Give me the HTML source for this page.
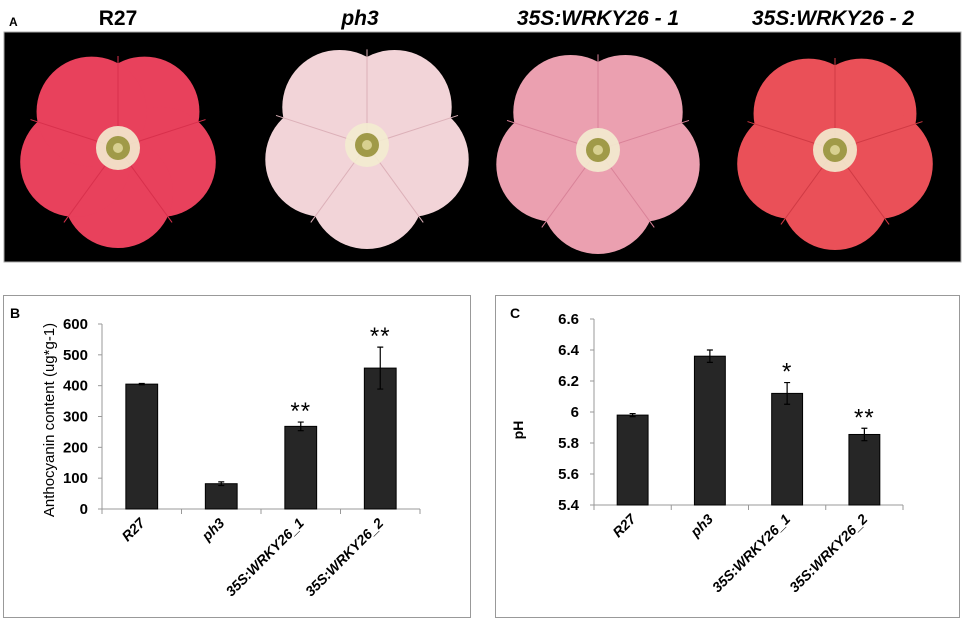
<!DOCTYPE html>
<html><head><meta charset="utf-8">
<style>
html,body{margin:0;padding:0;background:#fff;}
body{width:964px;height:623px;overflow:hidden;font-family:"Liberation Sans",Arial,sans-serif;}
svg text{font-family:"Liberation Sans",Arial,sans-serif;}
</style></head>
<body>
<svg id="fig" width="964" height="623" viewBox="0 0 964 623">
  <g>
    <text x="9" y="26" font-size="12" font-weight="bold">A</text>
    <text x="118" y="25" font-size="21" font-weight="bold" text-anchor="middle">R27</text>
    <text x="360" y="25" font-size="21" font-weight="bold" font-style="italic" text-anchor="middle">ph3</text>
    <text x="598" y="25" font-size="21" font-weight="bold" font-style="italic" text-anchor="middle">35S:WRKY26 - 1</text>
    <text x="833" y="25" font-size="21" font-weight="bold" font-style="italic" text-anchor="middle">35S:WRKY26 - 2</text>
    <rect x="4" y="32" width="957" height="230" fill="#000" stroke="#aaa" stroke-width="1"/>
    <g id="flowers"></g>
  </g>
  <g id="chartB">
    <rect x="3.5" y="295.5" width="467" height="322" fill="#fff" stroke="#999"/>
    <text x="10" y="318" font-size="14" font-weight="bold">B</text>
    <text transform="translate(54,420) rotate(-90)" font-size="15" text-anchor="middle">Anthocyanin content (ug*g-1)</text>
  </g>
  <g id="chartC">
    <rect x="495.5" y="295.5" width="464" height="322" fill="#fff" stroke="#999"/>
    <text x="510" y="318" font-size="14" font-weight="bold">C</text>
    <text transform="translate(523,430) rotate(-90)" font-size="14" font-weight="bold" text-anchor="middle">pH</text>
  </g>
</svg>
<script>
const categories = ["R27", "ph3", "35S:WRKY26_1", "35S:WRKY26_2"];
const anthoValues = [405, 82, 268, 457];
const anthoErrors = [2, 6, 14, 68];
const anthoStars = ["", "", "**", "**"];
const anthoTicks = [0, 100, 200, 300, 400, 500, 600];
const phValues = [5.98, 6.36, 6.12, 5.855];
const phErrors = [0.01, 0.04, 0.07, 0.04];
const phStars = ["", "", "*", "**"];
const phTicks = [5.4, 5.6, 5.8, 6.0, 6.2, 6.4, 6.6];
const phTickLabels = ["5.4", "5.6", "5.8", "6", "6.2", "6.4", "6.6"];

const NS = "http://www.w3.org/2000/svg";
function mk(tag, attrs, parent){
  const e = document.createElementNS(NS, tag);
  for (const k in attrs) e.setAttribute(k, attrs[k]);
  parent.appendChild(e);
  return e;
}

function drawChart(g, opt){
  const {x0, x1, yBot, yTop, vmin, vmax, values, errors, stars, ticks, tickLabels, prefix, labelRight} = opt;
  const yScale = v => yBot - (v - vmin) / (vmax - vmin) * (yBot - yTop);
  const step = (x1 - x0) / categories.length;
  const xScale = i => x0 + step * (i + 0.5);
  const ya = mk("line", {x1:x0, y1:yTop, x2:x0, y2:yBot, stroke:"#999", "stroke-width":1}, g);
  
  
  const xa = mk("line", {x1:x0, y1:yBot, x2:x1, y2:yBot, stroke:"#999", "stroke-width":1}, g);
  
  
  ticks.forEach((t, i) => {
    const y = yScale(t);
    const tk = mk("line", {x1:x0-4, y1:y, x2:x0, y2:y, stroke:"#999"}, g);
    
    
    const tl = mk("text", {x:labelRight, y:y+5, "font-size":15, "font-weight":"bold", "text-anchor":"end"}, g);
    tl.textContent = tickLabels[i];
    
    
  });
  for (let i = 0; i <= categories.length; i++){
    const x = x0 + step * i;
    const tk = mk("line", {x1:x, y1:yBot, x2:x, y2:yBot+5, stroke:"#999"}, g);
    
    
  }
  const bw = step * 0.4;
  values.forEach((v, i) => {
    const cx = xScale(i);
    const yv = yScale(v);
    const b = mk("rect", {x:cx-bw/2, y:yv, width:bw, height:yBot-yv, fill:"#262626", stroke:"#000", "stroke-width":1}, g);
    
    
    const yh = yScale(v + errors[i]), yl = yScale(v - errors[i]);
    const eg = mk("path", {d:`M${cx},${yh}V${yl}M${cx-3},${yh}H${cx+3}M${cx-3},${yl}H${cx+3}`, stroke:"#000", "stroke-width":1.2, fill:"none"}, g);
    
    
    if (stars[i]){
      const s = mk("text", {x:cx, y:yh-3, "font-size":24, "text-anchor":"middle", "letter-spacing":"1"}, g);
      s.textContent = stars[i];
      
      
    }
    const lx = cx + 4, ly = yBot + 15;
    const lbl = mk("text", {x:lx, y:ly, "font-size":14, "font-weight":"bold", "font-style":"italic", "text-anchor":"end", transform:`rotate(-45 ${lx} ${ly})`}, g);
    lbl.textContent = categories[i];
    
    
  });
}

drawChart(document.getElementById("chartB"), {
  x0:102, x1:420, yBot:509, yTop:324, vmin:0, vmax:600,
  values:anthoValues, errors:anthoErrors, stars:anthoStars,
  ticks:anthoTicks, tickLabels:anthoTicks.map(String), prefix:"anthocyanin", labelRight:88
});
drawChart(document.getElementById("chartC"), {
  x0:594, x1:903, yBot:505, yTop:319, vmin:5.4, vmax:6.6,
  values:phValues, errors:phErrors, stars:phStars,
  ticks:phTicks, tickLabels:phTickLabels, prefix:"ph", labelRight:579
});

const fg = document.getElementById("flowers");
const flowers = [
  {cx:118, cy:148, r:100, col:"#e8415c", dark:"#d8304c", name:"flower-r27"},
  {cx:367, cy:145, r:104, col:"#f2d4d8", dark:"#dcb0b8", name:"flower-ph3"},
  {cx:598, cy:150, r:104, col:"#eba0b0", dark:"#d98298", name:"flower-wrky26-1"},
  {cx:835, cy:150, r:100, col:"#ea5058", dark:"#d03a44", name:"flower-wrky26-2"}
];
flowers.forEach(f => {
  const g = mk("g", {}, fg);
  
  
  mk("circle", {cx:f.cx, cy:f.cy, r:f.r*0.82, fill:f.col}, g);
  for (let k = 0; k < 5; k++){
    const a = (-90 + 36 + k*72) * Math.PI/180;
    mk("circle", {cx:f.cx + Math.cos(a)*f.r*0.45, cy:f.cy + Math.sin(a)*f.r*0.45, r:f.r*0.55, fill:f.col}, g);
  }
  for (let k = 0; k < 5; k++){
    const a = (-90 + k*72) * Math.PI/180;
    mk("line", {x1:f.cx, y1:f.cy, x2:f.cx + Math.cos(a)*f.r*0.92, y2:f.cy + Math.sin(a)*f.r*0.92, stroke:f.dark, "stroke-width":1}, g);
  }
  mk("circle", {cx:f.cx, cy:f.cy, r:22, fill:"#f3ecd0", opacity:0.9}, g);
  mk("circle", {cx:f.cx, cy:f.cy, r:12, fill:"#a09a48"}, g);
  mk("circle", {cx:f.cx, cy:f.cy, r:5, fill:"#d8d090"}, g);
});
</script>
</body></html>
